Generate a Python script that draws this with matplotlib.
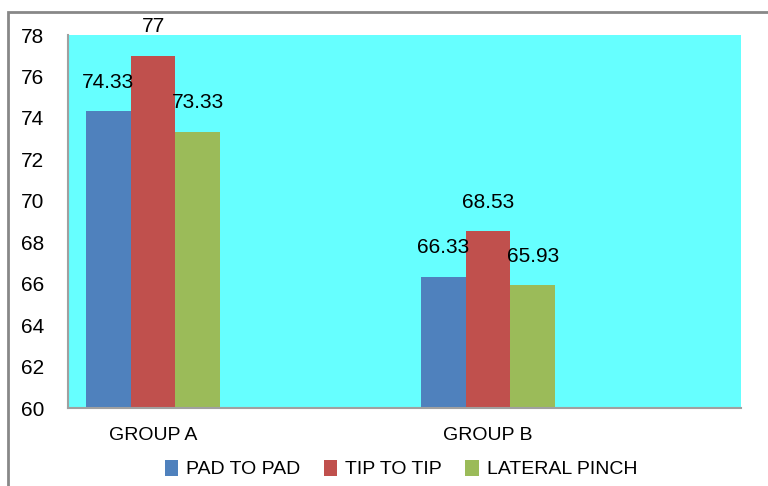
import numpy as np
import matplotlib.pyplot as plt
from matplotlib.patches import Rectangle

# data
groups = ['GROUP A', 'GROUP B']
series = ['PAD TO PAD', 'TIP TO TIP', 'LATERAL PINCH']
pad_to_pad = [74.33, 66.33]
tip_to_tip = [77, 68.53]
lateral_pinch = [73.33, 65.93]
value_labels = [['74.33', '66.33'], ['77', '68.53'], ['73.33', '65.93']]
yticks = [60, 62, 64, 66, 68, 70, 72, 74, 76, 78]

colors = ['#4F81BD', '#C0504D', '#9BBB59']
plt.rcParams['font.family'] = ['Liberation Sans', 'DejaVu Sans']

fig = plt.figure(figsize=(7.68, 4.86), dpi=100)
ax = fig.add_axes([68/768, 1 - 408/486, (741 - 68)/768, (408 - 35)/486])
ax.set_facecolor('#66FFFF')

x = np.arange(len(groups))
w = 0.1335
values = [pad_to_pad, tip_to_tip, lateral_pinch]
for i, (name, vals) in enumerate(zip(series, values)):
    pos = x + (i - 1) * w
    ax.bar(pos, np.array(vals) - 60, width=w, bottom=60, color=colors[i], label=name)
    for p, v, lab in zip(pos, vals, value_labels[i]):
        ax.annotate(lab, (p, v), xytext=(0, 14), textcoords='offset points',
                    ha='center', va='bottom', fontsize=15, color='black')

ax.set_xlim(-0.254, 1.755)
ax.set_ylim(60, 78)
ax.set_yticks(yticks)
ax.set_xticks(x)
ax.set_xticklabels(groups, fontsize=14)
ax.tick_params(axis='y', labelsize=15, length=0, pad=17)
ax.tick_params(axis='x', length=0, pad=14)
for s in ['top', 'right']:
    ax.spines[s].set_visible(False)
ax.spines['left'].set_color('#A0A0A0')
ax.spines['bottom'].set_color('#A0A0A0')
ax.spines['left'].set_linewidth(1.5)
ax.spines['bottom'].set_linewidth(1.5)

leg = fig.legend(loc='center', bbox_to_anchor=(401/768, 1 - 469/486), ncol=3,
                 frameon=False, fontsize=14, handlelength=0.7, handleheight=0.9,
                 handletextpad=0.4, columnspacing=1.2)

# outer chart border
fig.patches.append(Rectangle((8/768, -0.05), 1.2, 1 - 12/486 + 0.05,
                             transform=fig.transFigure, fill=False,
                             edgecolor='#888888', linewidth=2))

fig.savefig('out.png', dpi=100)
